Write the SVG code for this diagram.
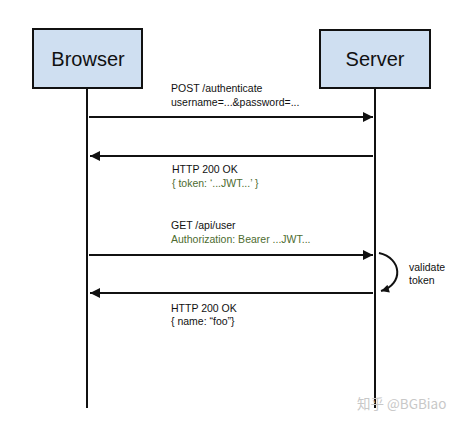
<svg xmlns="http://www.w3.org/2000/svg" width="461" height="424" viewBox="0 0 461 424">
<style>
.box{fill:#cfdff1;stroke:#111;stroke-width:2}
.title{font-family:"Liberation Sans",Arial,sans-serif;font-size:20px;fill:#111;text-anchor:middle}
.life{stroke:#111;stroke-width:2;fill:none}
.msg{stroke:#111;stroke-width:2;fill:none}
.lbl{font-family:"Liberation Sans",Arial,sans-serif;font-size:10.5px;fill:#111}
.grn{fill:#4d6b2f}
.wm{font-family:"Noto Sans CJK SC","Liberation Sans",sans-serif;font-size:13.5px;fill:#c8c8c8}
</style>
<defs>
<marker id="ah" viewBox="0 0 10 10" refX="10" refY="5" markerWidth="7" markerHeight="5" markerUnits="strokeWidth" orient="auto">
<path d="M0,0 L10,5 L0,10 z" fill="#111"/>
</marker>
<marker id="ah2" viewBox="0 0 10 10" refX="10" refY="5" markerWidth="5" markerHeight="4" markerUnits="strokeWidth" orient="auto">
<path d="M0,0 L10,5 L0,10 z" fill="#111"/>
</marker>
</defs>
<rect width="461" height="424" fill="#fff"/>
<g id="connectors">
<line class="life" x1="87" y1="88" x2="87" y2="408"/>
<line class="life" x1="375" y1="88" x2="375" y2="408"/>
<line class="msg" x1="89" y1="117" x2="373" y2="117" marker-end="url(#ah)"/>
<line class="msg" x1="373" y1="156" x2="90" y2="156" marker-end="url(#ah)"/>
<line class="msg" x1="89" y1="255" x2="373" y2="255" marker-end="url(#ah)"/>
<line class="msg" x1="373" y1="293" x2="90" y2="293" marker-end="url(#ah)"/>
<path class="msg" d="M379,253 C402,258 404,284 381,291" marker-end="url(#ah2)"/>
</g>
<g id="browser">
<rect class="box" x="33" y="29" width="109" height="59"/>
<text class="title" x="88" y="66">Browser</text>
</g>
<g id="server">
<rect class="box" x="320" y="30" width="110" height="58"/>
<text class="title" x="375" y="66">Server</text>
</g>
<g id="labels">
<text class="lbl" x="171" y="92">POST /authenticate</text>
<text class="lbl" x="171" y="106">username=...&amp;password=...</text>
<text class="lbl" x="172" y="173">HTTP 200 OK</text>
<text class="lbl grn" x="172" y="187">{ token: ‘...JWT...’ }</text>
<text class="lbl" x="171" y="229">GET /api/user</text>
<text class="lbl grn" x="171" y="243">Authorization: Bearer ...JWT...</text>
<text class="lbl" x="171" y="312">HTTP 200 OK</text>
<text class="lbl" x="171" y="325">{ name: “foo”}</text>
<text class="lbl" x="409" y="271">validate</text>
<text class="lbl" x="409" y="284">token</text>
</g>
<text class="wm" x="357" y="409">知乎 @BGBiao</text>
</svg>
